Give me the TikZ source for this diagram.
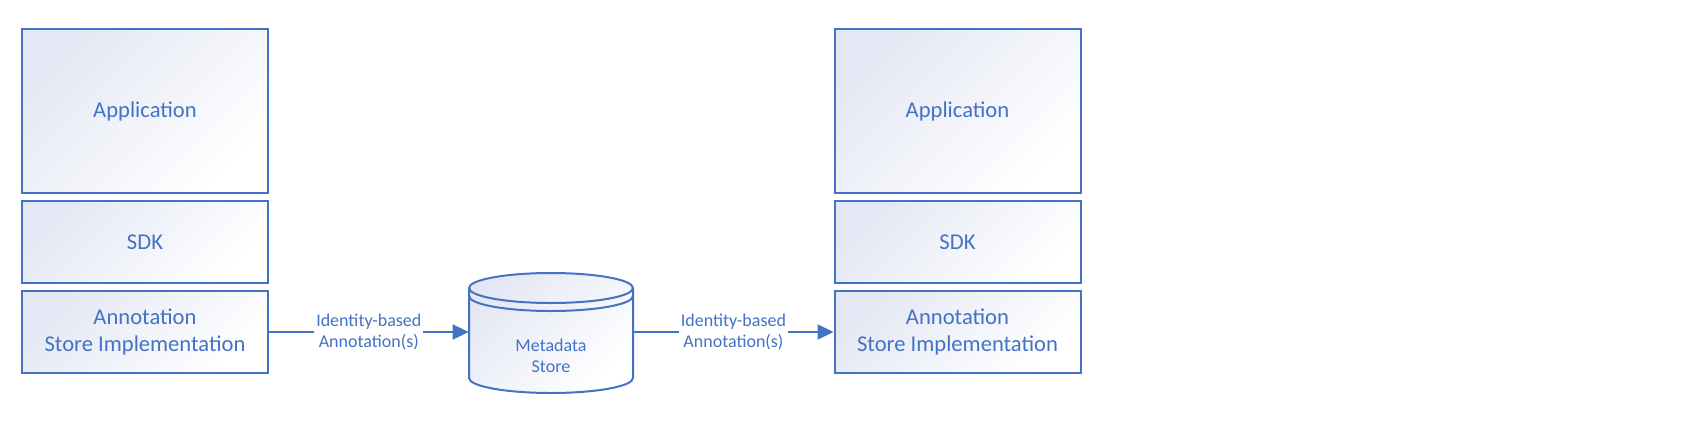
\documentclass[tikz,border=0pt]{standalone}
\usepackage{fontspec}
\setmainfont{Carlito}
\usetikzlibrary{arrows.meta}
\definecolor{msblue}{HTML}{4472C4}
\definecolor{msfill}{HTML}{E4E8F4}

\begin{document}
\begin{tikzpicture}[x=0.5pt, y=0.5pt,
    layer/.style={draw=msblue, line width=1pt, top color=msfill, bottom color=white, shading angle=45,
      text=msblue, align=center, inner sep=0pt, minimum width=123pt,
      font=\fontsize{11.3}{13.5}\selectfont},
    flow/.style={draw=msblue, line width=1pt, -{Triangle[length=8pt,width=7.5pt]}},
    lbl/.style={fill=white, text=msblue, align=center, inner sep=1pt,
      font=\fontsize{9}{10.5}\selectfont}]

    \useasboundingbox (0,0) rectangle (1708,425);

    \node[layer, minimum height=82pt] (app1) at (145,314) {Application};
    \node[layer, minimum height=41pt] (sdk1) at (145,183) {SDK};
    \node[layer, minimum height=41pt] (impl1) at (145,93) {Annotation\\Store Implementation};

    \node[layer, minimum height=82pt] (app2) at (957.5,314) {Application};
    \node[layer, minimum height=41pt] (sdk2) at (957.5,183) {SDK};
    \node[layer, minimum height=41pt] (impl2) at (957.5,93) {Annotation\\Store Implementation};

    % metadata store (cylinder)
    \shade[top color=msfill, bottom color=white, shading angle=45, draw=msblue, line width=1pt]
      (469,137) -- (469,47) arc (180:360:82 and 15) -- (633,137) arc (0:180:82 and 15) -- cycle;
    \draw[msblue, line width=1pt] (469,137) arc (180:360:82 and 15);
    \draw[msblue, line width=1pt] (469,129) arc (180:360:82 and 15);
    \node[minimum width=82pt, minimum height=45pt, inner sep=0pt] (store) at (551,93) {};
    \node[lbl, fill=none] (storetext) at (551,69) {Metadata\\Store};

    \draw[flow] (impl1) -- node[lbl] {Identity-based\\Annotation(s)} (store);
    \draw[flow] (store) -- node[lbl] {Identity-based\\Annotation(s)} (impl2);

\end{tikzpicture}
\end{document}
